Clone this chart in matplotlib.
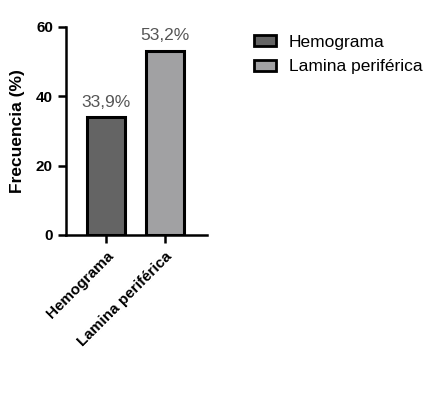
import matplotlib
matplotlib.use('Agg')
import matplotlib.pyplot as plt
from matplotlib.patches import Patch

categories = ['Hemograma', 'Lamina periférica']
values = [33.9, 53.2]
labels = ['33,9%', '53,2%']
colors = ['#646464', '#a1a1a3']

plt.rcParams['font.family'] = ['Liberation Sans', 'DejaVu Sans']

fig = plt.figure(figsize=(4.38, 4.0), dpi=100)
ax = fig.add_axes([0.151, 0.4125, 0.322, 0.52])

x = range(len(categories))
ax.bar(x, values, width=0.65, color=colors, edgecolor='black', linewidth=2.2, zorder=3)
for i, (v, t) in enumerate(zip(values, labels)):
    ax.text(i, v + 2.2, t, ha='center', va='bottom', fontsize=12.5, color='#555555')

ax.set_xlim(-0.68, 1.71)
ax.set_ylim(0, 60)
ax.set_yticks([0, 20, 40, 60])
ax.set_xticks(list(x))
ax.set_xticklabels(categories, rotation=45, ha='right', rotation_mode='anchor',
                   fontsize=11, fontweight='bold')
for lab in ax.get_yticklabels():
    lab.set_fontweight('bold')
    lab.set_fontsize(11)
ax.set_ylabel('Frecuencia (%)', fontsize=12.5, fontweight='bold', labelpad=8)

for s in ['top', 'right']:
    ax.spines[s].set_visible(False)
for s in ['left', 'bottom']:
    ax.spines[s].set_linewidth(1.8)
ax.tick_params(axis='both', width=1.8, length=6)
ax.tick_params(axis='x', pad=4)

handles = [Patch(facecolor=c, edgecolor='black', linewidth=2) for c in colors]
fig.legend(handles, categories, loc='upper left', bbox_to_anchor=(0.544, 0.952),
           frameon=False, fontsize=12.5, handlelength=1.3, handleheight=0.6,
           labelspacing=0.55, handletextpad=0.7)

fig.savefig('out.png', dpi=100)
